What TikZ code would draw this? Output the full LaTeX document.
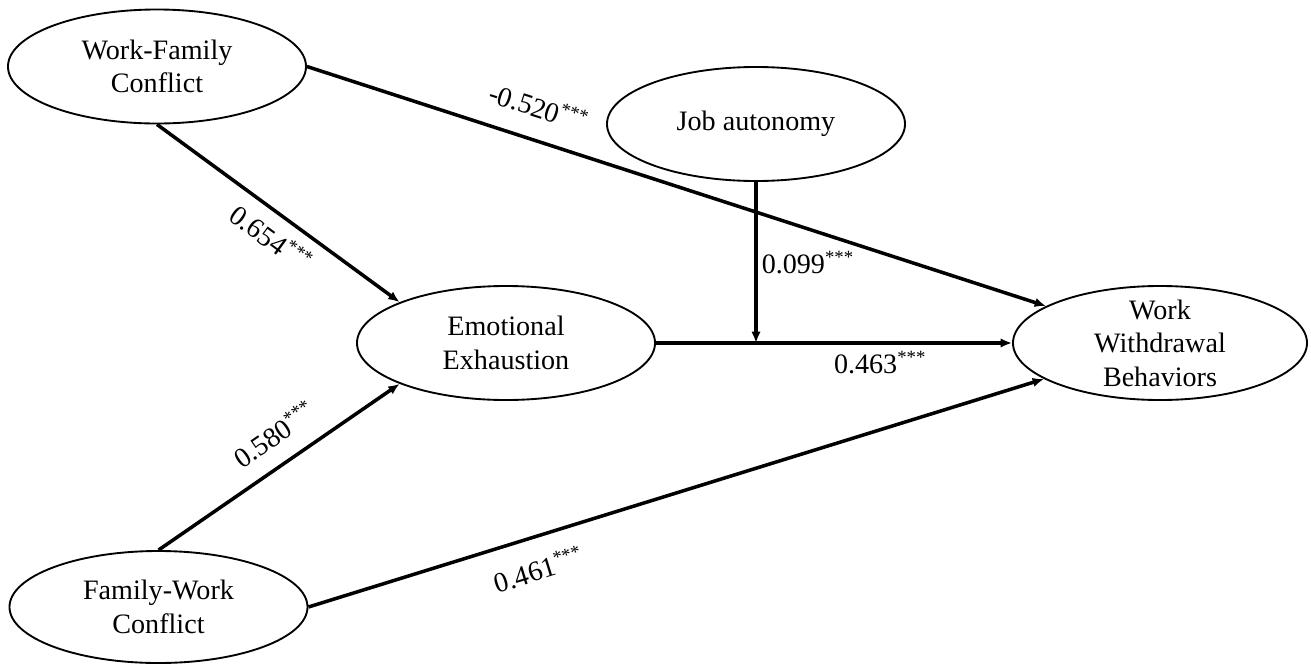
\documentclass[tikz,border=0pt]{standalone}
\usepackage{fontspec}
\setmainfont{Liberation Serif}
\usepackage{tikz}
\usetikzlibrary{arrows.meta,shapes.geometric}

\begin{document}
\begin{tikzpicture}[
    x=0.015cm, y=-0.015cm,
    latent/.style={draw, ellipse, line width=0.8pt, inner sep=-2mm,
                   minimum width=4.47cm, minimum height=1.71cm,
                   align=center, font=\fontsize{12}{14.3}\selectfont},
    arr/.style={-{Latex[length=1.7mm,width=1.4mm]}, line width=1.5pt},
    coef/.style={inner sep=0pt, font=\fontsize{12}{14}\selectfont}
]
    \useasboundingbox (0,0) rectangle (1311,664);
    \node[latent] (wfc) at (157,66.5) {Work-Family\\Conflict};
    \node[latent] (ja)  at (756,124)  {Job autonomy};
    \node[latent] (ee)  at (506,343)  {Emotional\\Exhaustion};
    \node[latent, minimum width=4.41cm] (wwb) at (1160,343) {Work\\Withdrawal\\Behaviors};
    \node[latent, minimum height=1.68cm] (fwc) at (158.5,607) {Family-Work\\Conflict};
    \coordinate (mod) at (ja.south |- ee.east);

    \draw[arr] (wfc.east) -- node[coef, sloped, pos=0.30, above=0.3cm] {-0.520\textsuperscript{***}} (wwb);
    \draw[arr] (wfc.south) -- node[coef, sloped, pos=0.53, below=0.16cm] {0.654\textsuperscript{***}} (ee.159);
    \draw[arr] (fwc.north) -- node[coef, sloped, pos=0.55, above=0.25cm] {0.580\textsuperscript{***}} (ee.201);
    \draw[arr] (fwc.east) -- node[coef, sloped, pos=0.30, below=0.28cm] {0.461\textsuperscript{***}} (wwb);
    \draw[arr] (ee.east) -- node[coef, pos=0.63, below=0.1cm] {0.463\textsuperscript{***}} (wwb.west);
    \draw[arr] (ja.south) -- node[coef, pos=0.5, right=0.06cm] {0.099\textsuperscript{***}} (mod);
\end{tikzpicture}
\end{document}
